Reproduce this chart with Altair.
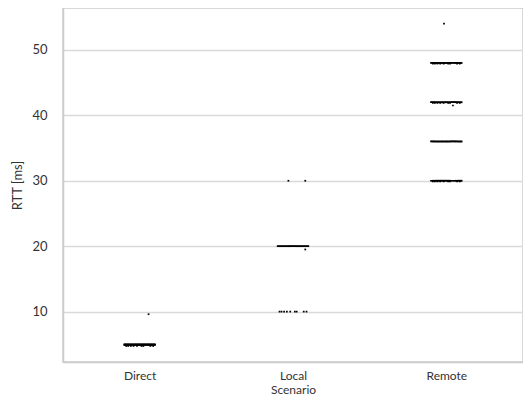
import altair as alt
import pandas as pd

SCENARIOS = ["Direct", "Local", "Remote"]
Y_TICKS = [10, 20, 30, 40, 50]

# shared horizontal jitter positions (category units) for the dense clusters
JITTER = [-0.100, -0.094, -0.088, -0.081, -0.075, -0.069, -0.062, -0.056, -0.050,
          -0.044, -0.037, -0.031, -0.025, -0.019, -0.012, -0.006, 0.000, 0.006,
          0.012, 0.019, 0.025, 0.031, 0.037, 0.044, 0.050, 0.056, 0.062, 0.069,
          0.075, 0.081, 0.088, 0.094, 0.100]
SPARSE_JITTER = [-0.088, -0.075, -0.058, -0.040, -0.018, 0.012, 0.024, 0.070, 0.088]

# dense RTT levels per scenario (ms)
DENSE_SCENARIO = ["Direct", "Direct", "Local", "Remote", "Remote", "Remote", "Remote"]
DENSE_RTT = [5.0, 4.9, 20.0, 30.0, 36.0, 42.0, 48.0]

# secondary (sparser) levels
SPARSE_SCENARIO = ["Direct", "Local", "Remote", "Remote", "Remote"]
SPARSE_RTT = [4.75, 10.0, 29.9, 47.9, 41.9]

# single outliers
OUT_SCENARIO = ["Direct", "Local", "Local", "Local", "Remote", "Remote"]
OUT_RTT = [9.6, 19.5, 30.0, 30.0, 41.5, 54.0]
OUT_JITTER = [0.058, 0.080, -0.030, 0.080, 0.043, -0.015]

rows = []
for s, v in zip(DENSE_SCENARIO, DENSE_RTT):
    for j in JITTER:
        rows.append({"Scenario": s, "RTT": v, "jit": j})
for s, v in zip(SPARSE_SCENARIO, SPARSE_RTT):
    for j in SPARSE_JITTER:
        rows.append({"Scenario": s, "RTT": v, "jit": j})
for s, v, j in zip(OUT_SCENARIO, OUT_RTT, OUT_JITTER):
    rows.append({"Scenario": s, "RTT": v, "jit": j})

df = pd.DataFrame(rows)
df["pos"] = df["Scenario"].map({s: i for i, s in enumerate(SCENARIOS)}) + df["jit"]

font = "Lato"

chart = alt.Chart(df).mark_square(size=3, color="black", opacity=1).encode(
    x=alt.X("pos:Q", title="Scenario",
            scale=alt.Scale(domain=[-0.5, 2.5], nice=False, zero=False),
            axis=alt.Axis(values=[0, 1, 2],
                          labelExpr="datum.value == 0 ? 'Direct' : datum.value == 1 ? 'Local' : 'Remote'",
                          grid=False, ticks=False, domainColor="#cccccc", domainWidth=1.5,
                          labelPadding=8, labelFontSize=12, titlePadding=3, titleFontSize=12)),
    y=alt.Y("RTT:Q", title="RTT [ms]",
            scale=alt.Scale(domain=[2.3, 56.4], nice=False, zero=False),
            axis=alt.Axis(values=Y_TICKS, grid=True, gridColor="#d9d9d9", gridWidth=1.5,
                          ticks=False, domainColor="#cccccc", domainWidth=1.5,
                          labelPadding=16, titlePadding=7, titleFontSize=13)),
).properties(
    width=460, height=354,
    autosize=alt.AutoSizeParams(type="none"),
    padding={"left": 55, "top": 0, "right": 0, "bottom": 37},
).configure_view(
    stroke="#cccccc", strokeWidth=1.5
).configure_axis(
    labelFont=font, titleFont=font, labelFontSize=13, titleFontSize=13,
    labelColor="#333333", titleColor="#333333", titleFontWeight="normal"
)

chart.save("out.html", embed_options={"renderer": "svg", "actions": False})
